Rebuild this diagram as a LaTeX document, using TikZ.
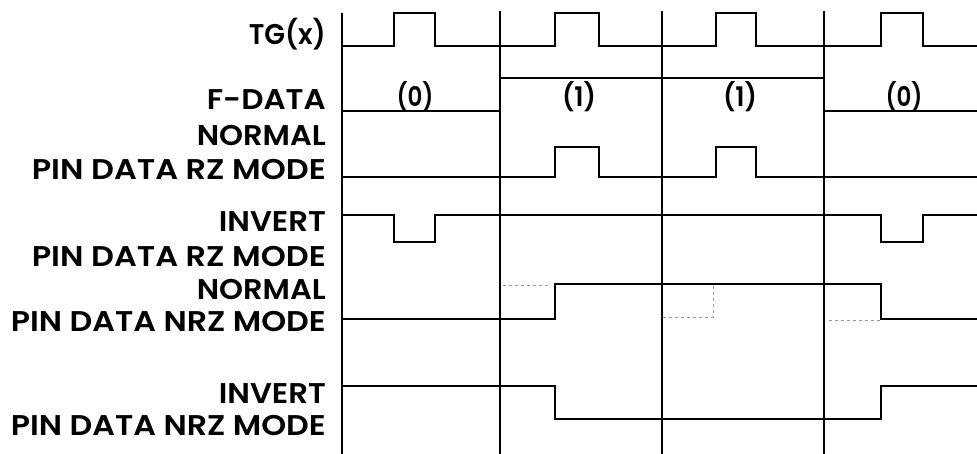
\documentclass[tikz,border=0pt]{standalone}
\usepackage{fontspec}
\setmainfont{Poppins}[BoldFont={Poppins SemiBold}]
\usepackage{tikz}
% stretch a label to the width it has in the drawing
\newcommand{\wlabel}[2]{\resizebox{#1}{\height}{#2}}

\begin{document}
\begin{tikzpicture}[x=1pt,y=-1pt,
  sig/.style={line width=2.6pt,line join=miter},
  gridline/.style={line width=1.6pt},
  ghost/.style={line width=0.6pt,black!40,dashed},
  lbl/.style={anchor=base east,inner sep=0pt,font=\bfseries\fontsize{28.5}{30}\selectfont},
  bit/.style={inner sep=0pt,font=\bfseries\fontsize{27}{29}\selectfont}]
  \useasboundingbox (0,0) rectangle (977,454);

  % time slots
  \draw[gridline] (342,13) -- (342,454);
  \foreach \x in {500,662,824}
    \draw[gridline] (\x,11) -- (\x,454);

  % signal names
  \node[lbl] (tg)    at (326,45)  {\wlabel{77pt}{TG(x)}};
  \node[lbl] (fdata) at (326,110) {\wlabel{119pt}{F-DATA}};
  \node[lbl] (rzn1)  at (326,146) {\wlabel{129pt}{NORMAL}};
  \node[lbl] (rzn2)  at (326,180) {\wlabel{294pt}{PIN DATA RZ MODE}};
  \node[lbl] (rzi1)  at (326,232) {\wlabel{107pt}{INVERT}};
  \node[lbl] (rzi2)  at (326,267) {\wlabel{294pt}{PIN DATA RZ MODE}};
  \node[lbl] (nrzn1) at (326,300) {\wlabel{129pt}{NORMAL}};
  \node[lbl] (nrzn2) at (326,331) {\wlabel{315pt}{PIN DATA NRZ MODE}};
  \node[lbl] (nrzi1) at (326,403) {\wlabel{107pt}{INVERT}};
  \node[lbl] (nrzi2) at (326,435) {\wlabel{315pt}{PIN DATA NRZ MODE}};

  % data bits
  \node[bit] (bit1) at (415,97) {\wlabel{37pt}{(0)}};
  \node[bit] (bit2) at (579,97) {\wlabel{34pt}{(1)}};
  \node[bit] (bit3) at (740,97) {\wlabel{34pt}{(1)}};
  \node[bit] (bit4) at (904,97) {\wlabel{37pt}{(0)}};

  % waveforms
  \draw[sig] (342,46) -| (394,13) -| (435,46) -| (555,13) -| (599,46)
    -| (716,13) -| (756,46) -| (881,13) -| (923,46) -- (977,46);
  \draw[sig] (342,111) -| (500,78) -- (824,78) |- (977,111);
  \draw[sig] (342,177) -| (555,147) -| (599,177) -| (716,147) -| (756,177) -- (977,177);
  \draw[sig] (342,215) -| (394,242) -| (435,215) -| (881,242) -| (923,215) -- (977,215);
  \draw[sig] (342,319) -| (555,284) -| (881,319) -- (977,319);
  \draw[sig] (342,386) -| (555,419) -| (881,386) -- (977,386);

  % faint pencil marks
  \draw[ghost] (503,285) -- (550,285);
  \draw[ghost] (663,317) -| (713,286);
  \draw[ghost] (829,320) -- (880,320);

\end{tikzpicture}
\end{document}
